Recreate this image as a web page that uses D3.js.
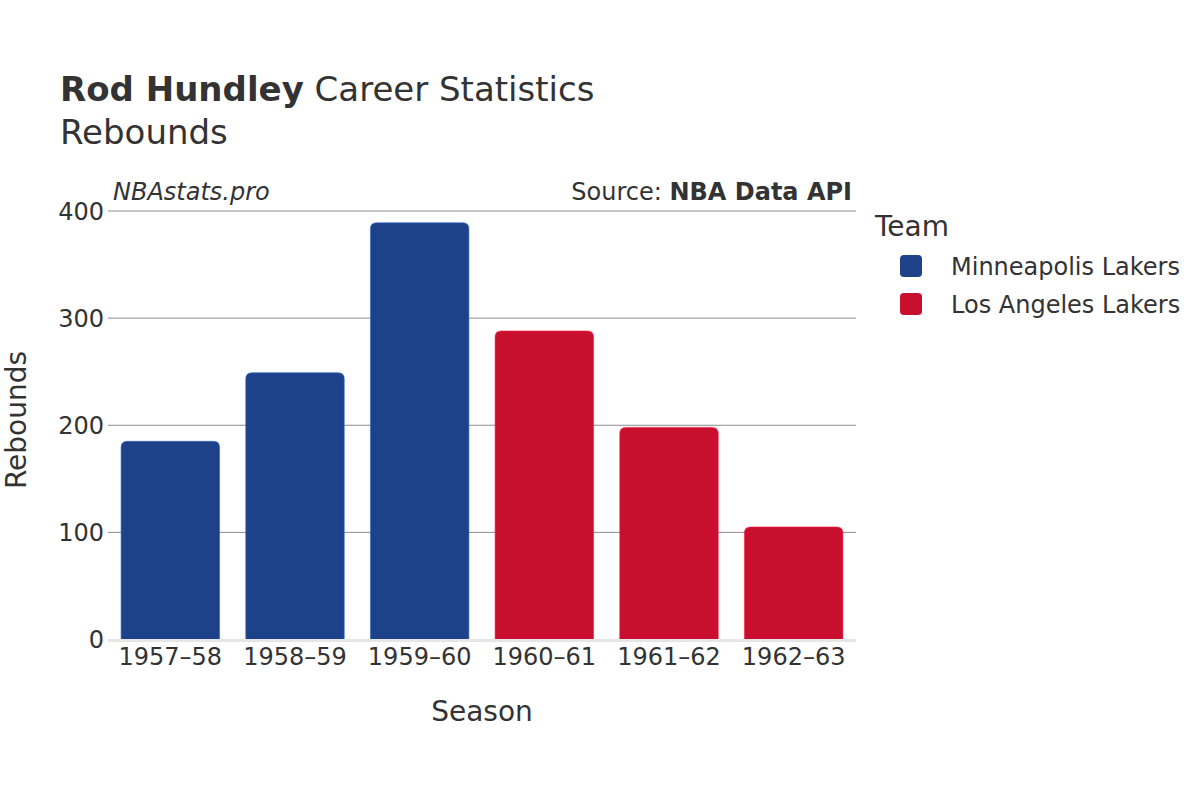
<!DOCTYPE html>
<html>
<head>
<meta charset="utf-8">
<script src="https://cdn.jsdelivr.net/npm/d3@7"></script>
<style>
  body { margin: 0; background: #fff; }
  svg text { font-family: "DejaVu Sans", sans-serif; fill: #333; }
</style>
</head>
<body>
<svg id="chart" width="1200" height="800"></svg>
<script>
// chart data
var seasons = ["1957\u201358", "1958\u201359", "1959\u201360", "1960\u201361", "1961\u201362", "1962\u201363"];
var rebounds = [185, 249, 389, 288, 198, 105];
var teams = ["Minneapolis Lakers", "Minneapolis Lakers", "Minneapolis Lakers", "Los Angeles Lakers", "Los Angeles Lakers", "Los Angeles Lakers"];
var teamNames = ["Minneapolis Lakers", "Los Angeles Lakers"];
var teamColors = ["#1d428a", "#c8102e"];
var yTicks = [0, 100, 200, 300, 400];

var svg = d3.select("#chart");

var plotLeft = 108, plotRight = 856, plotTop = 211, plotBottom = 639.5;

var xScale = d3.scaleBand()
    .domain(seasons)
    .range([plotLeft, plotRight])
    .paddingInner(0.21)
    .paddingOuter(0.105);

var yScale = d3.scaleLinear()
    .domain([0, 400])
    .range([plotBottom, plotTop]);

var colorScale = d3.scaleOrdinal()
    .domain(teamNames)
    .range(teamColors);

// grid lines
svg.append("g")
    .selectAll("line")
    .data(yTicks.filter(function(d) { return d > 0; }))
    .enter().append("line")
    .attr("x1", plotLeft)
    .attr("x2", plotRight)
    .attr("y1", function(d) { return yScale(d); })
    .attr("y2", function(d) { return yScale(d); })
    .attr("stroke", "#8c8c8c")
    .attr("stroke-width", 1);

// bars with rounded tops
function barPath(x, y, w, h, r)
{
    r = Math.min(r, h);
    return "M" + x + "," + (y + h) +
        "V" + (y + r) +
        "Q" + x + "," + y + " " + (x + r) + "," + y +
        "H" + (x + w - r) +
        "Q" + (x + w) + "," + y + " " + (x + w) + "," + (y + r) +
        "V" + (y + h) + "Z";
}

var data = seasons.map(function(s, i) {
    return { season: s, value: rebounds[i], team: teams[i] };
});

svg.append("g")
    .selectAll("path")
    .data(data)
    .enter().append("path")
    .attr("d", function(d) {
        var y = yScale(d.value);
        return barPath(xScale(d.season), y, xScale.bandwidth(), yScale(0) - y, 6);
    })
    .attr("fill", function(d) { return colorScale(d.team); })
    .attr("stroke", function(d) { return d3.color(colorScale(d.team)).brighter(1.2); })
    .attr("stroke-width", 0.6);

// zero line
svg.append("line")
    .attr("x1", plotLeft)
    .attr("x2", plotRight)
    .attr("y1", yScale(0) + 1)
    .attr("y2", yScale(0) + 1)
    .attr("stroke", "#e6e6e6")
    .attr("stroke-width", 3);

// y axis
var yAxis = d3.axisLeft(yScale).tickValues(yTicks).tickSize(0).tickPadding(4);
var yg = svg.append("g")
    .attr("transform", "translate(" + plotLeft + ",0)")
    .call(yAxis);
yg.select(".domain").remove();
yg.selectAll("text").style("font-size", "24px").attr("fill", "#333").attr("dy", "0.35em");

// x axis
var xAxis = d3.axisBottom(xScale).tickSize(0).tickPadding(8);
var xg = svg.append("g")
    .attr("transform", "translate(0," + plotBottom + ")")
    .call(xAxis);
xg.select(".domain").remove();
xg.selectAll("text").style("font-size", "24px").attr("fill", "#333");

// titles
var title = svg.append("text")
    .attr("x", 60)
    .attr("y", 101)
    .style("font-size", "34px");
title.append("tspan").style("font-weight", "bold").text("Rod Hundley");
title.append("tspan").text(" Career Statistics");

svg.append("text")
    .attr("x", 60)
    .attr("y", 144)
    .style("font-size", "34px")
    .text("Rebounds");

svg.append("text")
    .attr("x", 113)
    .attr("y", 200)
    .style("font-size", "24px")
    .style("font-style", "italic")
    .text("NBAstats.pro");

var source = svg.append("text")
    .attr("x", 852)
    .attr("y", 200)
    .attr("text-anchor", "end")
    .style("font-size", "24px");
source.append("tspan").text("Source: ");
source.append("tspan").style("font-weight", "bold").text("NBA Data API");

// axis titles
svg.append("text")
    .attr("x", 482)
    .attr("y", 721)
    .attr("text-anchor", "middle")
    .style("font-size", "28px")
    .text("Season");

svg.append("text")
    .attr("transform", "translate(26,420) rotate(-90)")
    .attr("text-anchor", "middle")
    .style("font-size", "28px")
    .text("Rebounds");

// legend
svg.append("text")
    .attr("x", 875)
    .attr("y", 236)
    .style("font-size", "28px")
    .text("Team");

var legend = svg.append("g")
    .selectAll("g")
    .data(teamNames)
    .enter().append("g")
    .attr("transform", function(d, i) { return "translate(900," + (255 + i * 38) + ")"; });

legend.append("rect")
    .attr("width", 22)
    .attr("height", 22)
    .attr("rx", 4)
    .attr("fill", function(d) { return colorScale(d); });

legend.append("text")
    .attr("x", 51)
    .attr("y", 12)
    .attr("dy", "0.35em")
    .style("font-size", "24px")
    .text(function(d) { return d; });
</script>
</body>
</html>
